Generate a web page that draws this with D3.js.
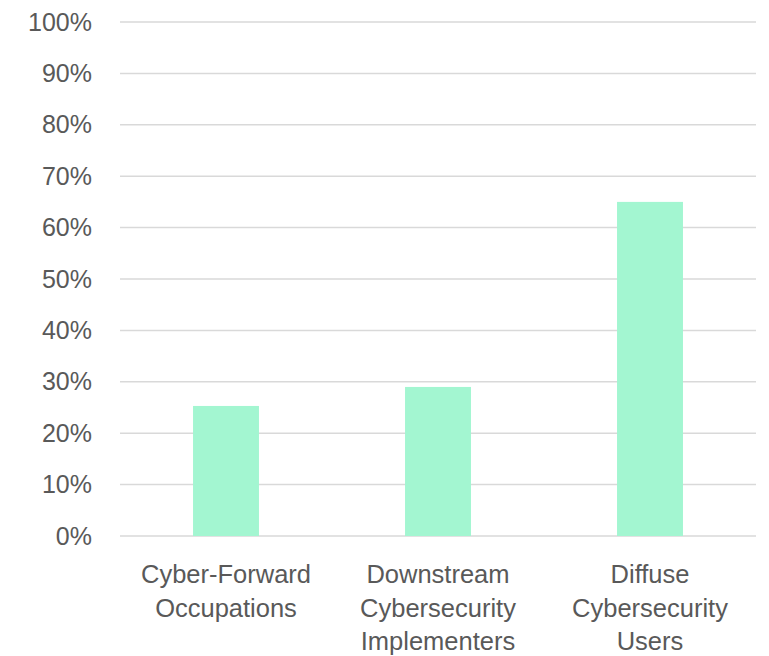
<!DOCTYPE html>
<html>
<head>
<meta charset="utf-8">
<script src="https://cdn.jsdelivr.net/npm/d3@7"></script>
<style>
  body { margin: 0; background: #fff; }
</style>
</head>
<body>
<script>
// categories and values
var categories = ["Cyber-Forward Occupations", "Downstream Cybersecurity Implementers", "Diffuse Cybersecurity Users"];
var labelLines = [
    ["Cyber-Forward", "Occupations"],
    ["Downstream", "Cybersecurity", "Implementers"],
    ["Diffuse", "Cybersecurity", "Users"]
];
var shares = [0.253, 0.290, 0.650];
var yTicks = [0, 0.1, 0.2, 0.3, 0.4, 0.5, 0.6, 0.7, 0.8, 0.9, 1.0];

var width = 769, height = 656;

var svg = d3.select("body")
    .append("svg")
    .attr("width", width)
    .attr("height", height);

// scales
var x = d3.scaleBand()
    .domain(categories)
    .range([120, 756])
    .paddingInner(0.689)
    .paddingOuter(0.3445);

var y = d3.scaleLinear()
    .domain([0, 1])
    .range([536, 22]);

// gridlines
svg.append("g")
    .selectAll("line")
    .data(yTicks)
    .enter()
    .append("line")
    .attr("x1", 120)
    .attr("x2", 756)
    .attr("y1", function(d){ return y(d); })
    .attr("y2", function(d){ return y(d); })
    .style("stroke", "#d9d9d9")
    .style("stroke-width", 1.5);

// y axis labels
var yAxis = d3.axisLeft(y)
    .tickValues(yTicks)
    .tickFormat(d3.format(".0%"))
    .tickSize(0)
    .tickPadding(28);

var axis = svg.append("g")
    .attr("transform", "translate(120,0)")
    .call(yAxis);
axis.select(".domain").remove();
axis.selectAll("text")
    .style("font-family", "'Liberation Sans', Arial, sans-serif")
    .style("font-size", "25px")
    .style("fill", "#595959");

// bars
svg.selectAll(".bar")
    .data(shares)
    .enter()
    .append("rect")
    .attr("class", "bar")
    .attr("x", function(d, i){ return x(categories[i]); })
    .attr("width", x.bandwidth())
    .attr("y", function(d){ return y(d); })
    .attr("height", function(d){ return y(0) - y(d); })
    .style("fill", "#a3f6d1");

// category labels, several lines each
var catLabels = svg.selectAll(".cat")
    .data(categories)
    .enter()
    .append("text")
    .attr("class", "cat")
    .attr("text-anchor", "middle")
    .style("font-family", "'Liberation Sans', Arial, sans-serif")
    .style("font-size", "25.5px")
    .style("fill", "#595959");

catLabels.each(function(d, i){
    var t = d3.select(this);
    labelLines[i].forEach(function(line, j){
        t.append("tspan")
            .attr("x", x(d) + x.bandwidth() / 2)
            .attr("y", 583 + j * 33.5)
            .text(line);
    });
});
</script>
</body>
</html>
